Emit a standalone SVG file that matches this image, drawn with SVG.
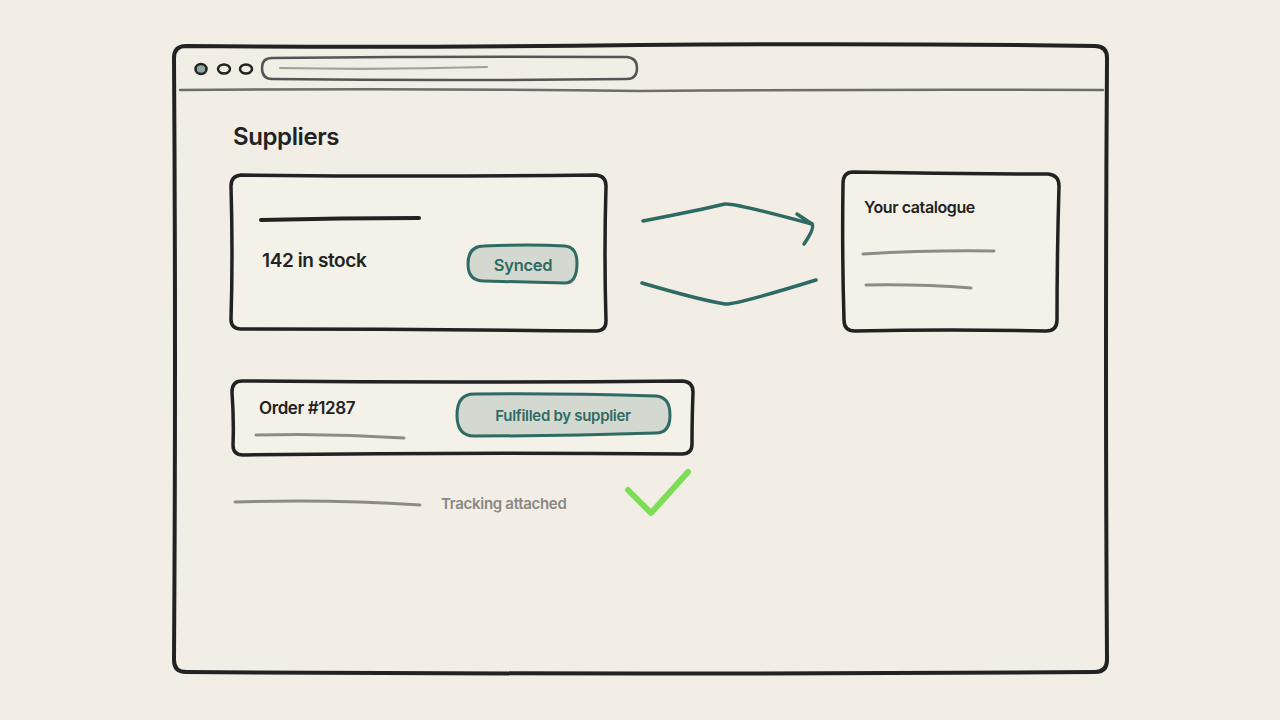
<svg xmlns="http://www.w3.org/2000/svg" width="1280" height="720" viewBox="0 0 1280 720">
<defs>
<style>
.frame{fill:none;stroke:#222;stroke-width:4;stroke-linecap:round;stroke-linejoin:round}
.card{fill:#f4f1e9;stroke:#222;stroke-width:3.5;stroke-linejoin:round}
.gray{fill:none;stroke:#8e8b87;stroke-width:3;stroke-linecap:round}
.pill{fill:#d3d8d1;stroke:#2f6b62;stroke-width:3}
.pilltxt{font-family:Inter,"Liberation Sans",sans-serif;font-weight:600;fill:#2f6b62;text-anchor:middle;letter-spacing:-0.3px}
.txt{font-family:Inter,"Liberation Sans",sans-serif;font-weight:600;fill:#222;letter-spacing:-0.4px}
.conn{fill:none;stroke:#2e6a62;stroke-width:3.5;stroke-linecap:round;stroke-linejoin:round}
</style>
</defs>
<rect width="1280" height="720" fill="#f2eee6"/>
<g id="window">
<path class="frame" d="M186,46 Q400,48 640,45 Q880,43 1095,46 Q1107,46 1107,58 Q1105,360 1107,660 Q1107,672 1095,672 Q640,675 186,672 Q174,672 174,660 Q176,360 174,58 Q174,46 186,46 Z" fill="#f4f1e9"/>
<path d="M180,90 Q420,88 640,91 Q880,89 1103,90" fill="none" stroke="#6f6c69" stroke-width="2.5" stroke-linecap="round"/>
<ellipse cx="201" cy="69" rx="5.5" ry="5" fill="#8fa8a4" stroke="#222" stroke-width="2.5"/>
<ellipse cx="224" cy="69" rx="6" ry="4.5" fill="none" stroke="#222" stroke-width="2.5"/>
<ellipse cx="246" cy="69" rx="6" ry="4.5" fill="none" stroke="#222" stroke-width="2.5"/>
<path d="M272,58 Q450,56 627,57 Q637,58 637,68 Q637,79 627,79 Q450,81 272,79 Q262,79 262,68 Q262,58 272,58 Z" fill="none" stroke="#555" stroke-width="2.5"/>
<path d="M280,68 Q380,70 487,67" fill="none" stroke="#a3a09c" stroke-width="2.2" stroke-linecap="round"/>
<text class="txt" x="233" y="145" font-size="24" font-weight="700">Suppliers</text>
</g>
<g id="supplier-card">
<path class="card" d="M241,175 Q420,177 596,175 Q606,176 606,186 Q604,255 606,321 Q606,331 596,331 Q420,329 241,329 Q231,329 231,319 Q233,255 231,186 Q231,176 241,175 Z"/>
<path d="M261,220 Q340,218 419,218" fill="none" stroke="#222" stroke-width="4" stroke-linecap="round"/>
<text class="txt" x="262" y="267" font-size="19">142 in stock</text>
<path class="pill" d="M484,246 Q530,244 565,246 Q577,247 577,263 Q577,283 565,283 Q520,282 484,281 Q468,281 468,264 Q468,246 484,246 Z"/>
<text class="pilltxt" x="523" y="271" font-size="16.5">Synced</text>
</g>
<g id="catalogue-card">
<path class="card" d="M853,172 Q950,174 1048,174 Q1059,175 1059,186 Q1057,255 1057,320 Q1057,331 1046,331 Q950,329 855,331 Q844,331 844,320 Q842,255 843,184 Q843,172 853,172 Z"/>
<text class="txt" x="864" y="213" font-size="16">Your catalogue</text>
<path class="gray" d="M863,254 Q930,250 994,251"/>
<path class="gray" d="M866,285 Q920,284 971,288"/>
</g>
<g id="order-card">
<path class="card" d="M242,381 Q460,383 683,381 Q693,382 693,392 Q692,420 692,444 Q692,454 682,454 Q460,452 243,455 Q233,455 233,445 Q234,420 232,392 Q232,381 242,381 Z"/>
<text class="txt" x="259" y="414" font-size="17">Order #1287</text>
<path class="gray" d="M256,435 Q330,433 404,438"/>
<path class="pill" d="M474,394 Q560,393 656,396 Q670,397 670,415 Q670,433 656,433 Q560,436 474,436 Q457,436 457,415 Q457,394 474,394 Z"/>
<text class="pilltxt" x="563" y="421" font-size="15">Fulfilled by supplier</text>
</g>
<g id="tracking">
<path class="gray" d="M235,502 Q330,499 420,505"/>
<text x="441" y="509" font-family="Inter,'Liberation Sans',sans-serif" font-weight="600" font-size="15" fill="#8a8784" letter-spacing="-0.3">Tracking attached</text>
<path d="M628,490 L651,513 L688,472" fill="none" stroke="#7ddd57" stroke-width="6" stroke-linecap="round" stroke-linejoin="round"/>
</g>
<g id="connectors">
<path class="conn" d="M643,221 Q700,210 725,204 Q735,203 812,224"/>
<path class="conn" d="M797,214 L812,224 Q815,228 804,244"/>
<path class="conn" d="M642,283 Q700,300 725,304 Q735,305 816,280"/>
</g>
</svg>
